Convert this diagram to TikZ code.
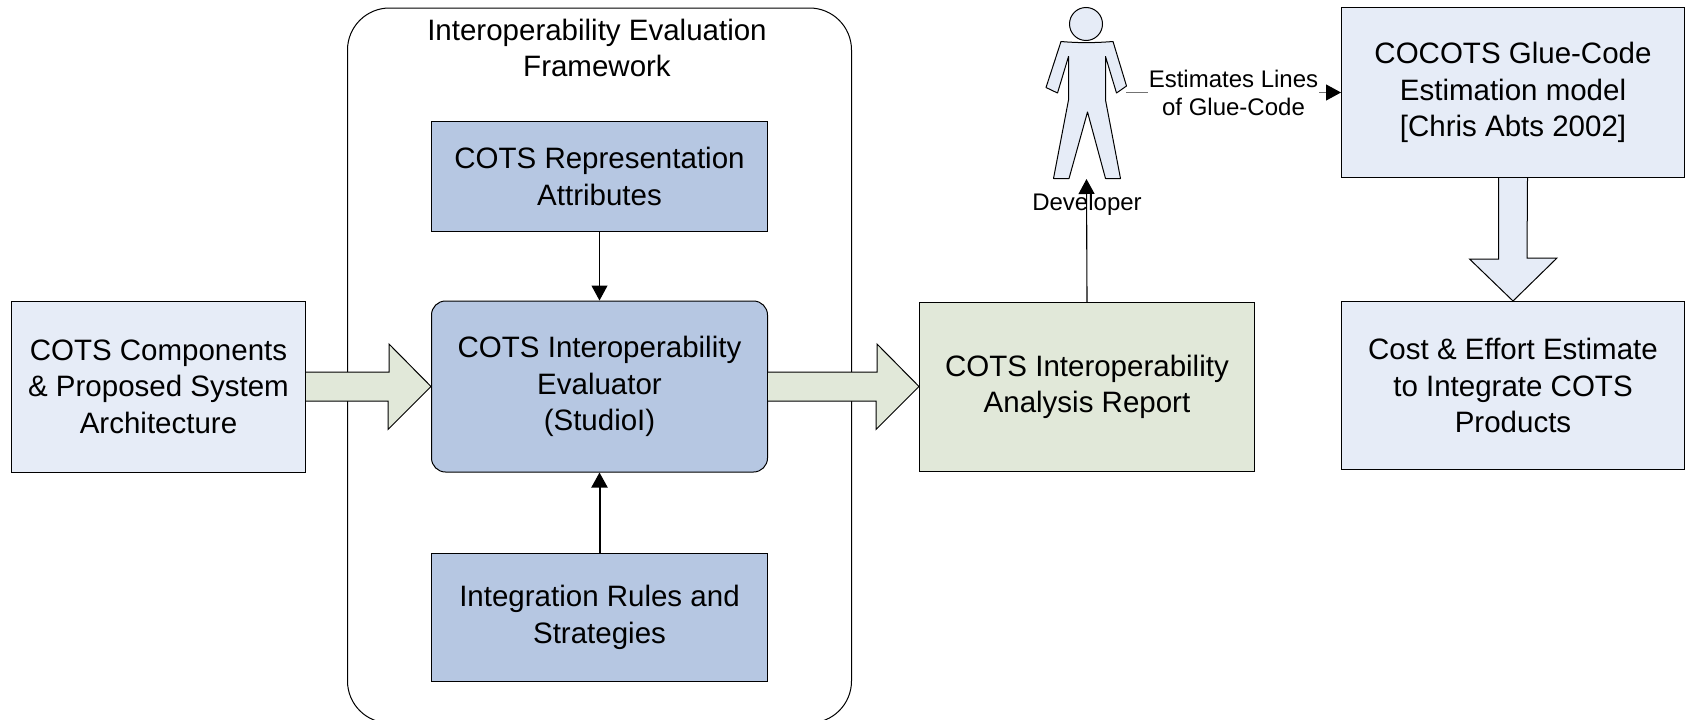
\documentclass[tikz,border=0pt]{standalone}
\usepackage{fontspec}
\setmainfont{Liberation Sans}
\usetikzlibrary{arrows.meta,calc}
\definecolor{lightblue}{HTML}{E6ECF7}
\definecolor{midblue}{HTML}{B6C7E2}
\definecolor{palegreen}{HTML}{E1E8D9}
\tikzset{
  boxbase/.style={draw=black,line width=1pt,align=center,anchor=north west,inner sep=0pt,font=\fontsize{29.5}{36.5}\selectfont},
  lightbox/.style={boxbase,fill=lightblue},
  midbox/.style={boxbase,fill=midblue},
  greenbox/.style={boxbase,fill=palegreen},
  blockarrow/.style={draw=black,line width=1pt,line join=miter},
  thinarrow/.style={draw=black,line width=1.1pt,-{Triangle[length=15pt,width=16pt]}},
  thickarrow/.style={draw=black,line width=2pt,-{Triangle[length=15pt,width=16pt]}},
  greyarrow/.style={draw=black!55,line width=1.1pt,-{Triangle[length=15pt,width=16pt,color=black,fill=black]}},
  smalltext/.style={font=\fontsize{24}{28}\selectfont,align=center,inner sep=1pt},
}
\begin{document}
\begin{tikzpicture}[x=1pt,y=-1pt]
\useasboundingbox (0,0) rectangle (1689,720);
\clip (0,0) rectangle (1689,720);
% framework container
\node[boxbase,fill=white,rounded corners=42pt,minimum width=504pt,minimum height=715pt] (frame) at (347,7.5) {};
\node[font=\fontsize{29.5}{36.5}\selectfont,align=center,anchor=center,inner sep=0pt] (frametitle) at (597,48) {Interoperability Evaluation\\Framework};
% boxes
\node[lightbox,minimum width=294pt,minimum height=171pt] (comps) at (11,300.5) {COTS Components\\\& Proposed System\\Architecture};
\node[midbox,minimum width=336pt,minimum height=110pt] (rep) at (431,121) {COTS Representation\\Attributes};
\node[midbox,rounded corners=14pt,minimum width=336pt,minimum height=171pt] (eval) at (431,300.5) {COTS Interoperability\\Evaluator\\(StudioI)};
\node[midbox,minimum width=336pt,minimum height=128pt] (rules) at (431,553) {Integration Rules and\\Strategies};
\node[greenbox,minimum width=335pt,minimum height=169pt] (report) at (919,302) {COTS Interoperability\\Analysis Report};
\node[lightbox,minimum width=343pt,minimum height=170pt] (cocots) at (1341,7) {COCOTS Glue-Code\\Estimation model\\{[Chris Abts 2002]}};
\node[lightbox,minimum width=343pt,minimum height=168pt] (cost) at (1341,301) {Cost \& Effort Estimate\\to Integrate COTS\\Products};
% developer figure
\node[circle,draw=black,line width=1pt,fill=lightblue,minimum size=33pt,inner sep=0pt] (head) at (1086,24) {};
\draw[draw=black,line width=1pt,fill=lightblue,line join=round]
  (1061,41.5) .. controls (1078,43) and (1094,43) .. (1113,41.5)
  -- (1126.5,86) -- (1116.5,93) -- (1105.5,56.5) -- (1105.5,100) -- (1120.5,178.5) -- (1105.5,178.5)
  -- (1087.5,112) -- (1069,178.5) -- (1053.5,178.5) -- (1068.5,100) -- (1068.5,56.5) -- (1057.5,93) -- (1046,87.5) -- cycle;
\node[smalltext,inner sep=0pt,anchor=center] (dev) at (1087,204) {Developer};
\coordinate (devfoot) at (1086.5,179);
\coordinate (devhand) at (1126,92.5);
% block arrows
\draw[blockarrow,fill=palegreen]
  ($(comps.east)+(0,-14.5)$) -- ++(83,0) -- ++(0,-28) -- ($(eval.west)$) -- ++(-43,43) -- ++(0,-28.5) -- ($(comps.east)+(0,14.5)$);
\draw[blockarrow,fill=palegreen]
  ($(eval.east)+(0,-14.5)$) -- ++(109,0) -- ++(0,-28) -- ($(report.west)+(0,-0.5)$) -- ++(-43,43) -- ++(0,-28.5) -- ($(eval.east)+(0,14.5)$);
\draw[blockarrow,fill=lightblue]
  ($(cocots.south)+(-14.5,0)$) -- ++(0,81) -- ++(-29,0) -- (cost.north) -- ++(44,-43) -- ++(-30,0) -- ($(cocots.south)+(14.5,0)$);
% connectors
\draw[thinarrow] (rep.south) -- (eval.north);
\draw[thickarrow] (rules.north) -- (eval.south);
\draw[thinarrow] (report.north) -- (devfoot);
\draw[greyarrow] (devhand) -- (cocots.west |- devhand)
  node[pos=0.5,smalltext,fill=white,text=black,anchor=center] (estlabel) {Estimates Lines\\of Glue-Code};
\end{tikzpicture}
\end{document}
